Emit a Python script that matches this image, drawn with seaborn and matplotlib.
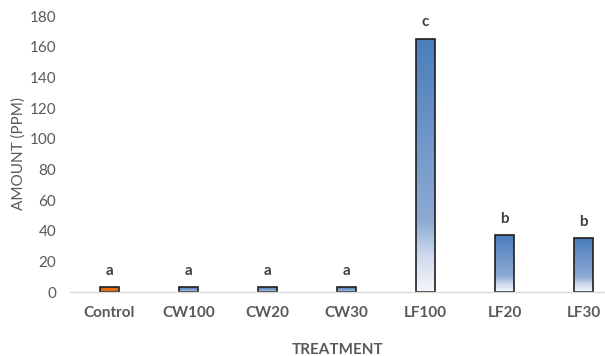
import numpy as np
import matplotlib
matplotlib.use("Agg")
import matplotlib.pyplot as plt
import pandas as pd
import seaborn as sb
from matplotlib.colors import LinearSegmentedColormap

treatments = ["Control", "CW100", "CW20", "CW30", "LF100", "LF20", "LF30"]
amounts = [3, 3, 3, 3, 165, 37, 35]
letters = ["a", "a", "a", "a", "c", "b", "b"]
yticks = [0, 20, 40, 60, 80, 100, 120, 140, 160, 180]

sb.set_style("white")
plt.rcParams["font.family"] = ["Lato", "DejaVu Sans"]

grey = "#595959"
blue_grad = LinearSegmentedColormap.from_list(
    "bluegrad",
    [(0.0, "#4a7ebb"), (0.72, "#8eaad4"), (0.86, "#cfdaec"), (1.0, "#f4f7fc")])

df = pd.DataFrame({"treatment": treatments, "amount": amounts})

fig = plt.figure(figsize=(6.05, 3.56), dpi=100)
ax = fig.add_axes([70 / 605, 64 / 356, 535 / 605, 276 / 356])
sb.barplot(data=df, x="treatment", y="amount", ax=ax, width=0.23,
           color="#4a7ebb", edgecolor="#1f1f1f", linewidth=1.2)

# gradient fill for each bar, orange for control
for i, p in enumerate(ax.patches):
    x0, y0 = p.get_x(), p.get_y()
    w, h = p.get_width(), p.get_height()
    if i == 0:
        p.set_facecolor("#e46c0a")
        continue
    p.set_facecolor("none")
    grad = np.linspace(0, 1, 256).reshape(-1, 1)
    im = ax.imshow(grad, cmap=blue_grad, aspect="auto",
                   extent=[x0, x0 + w, y0, y0 + h], origin="upper", zorder=p.get_zorder() - 0.1)
    im.set_clip_path(p)

for i, (v, lab) in enumerate(zip(amounts, letters)):
    ax.annotate(lab, (i, v), xytext=(0, 7), textcoords="offset points",
                ha="center", va="bottom", fontsize=11, fontweight="bold", color="#404040")

ax.set_xlim(-0.5, -0.5 + 535 / 79)
ax.set_ylim(0, 180)
ax.set_yticks(yticks)
ax.tick_params(axis="both", length=0, colors=grey, labelsize=11)
ax.tick_params(axis="y", pad=10)
ax.tick_params(axis="x", pad=10)
for t in ax.get_xticklabels():
    t.set_fontweight("bold")
for s in ["top", "right", "left"]:
    ax.spines[s].set_visible(False)
ax.spines["bottom"].set_color("#d9d9d9")
ax.spines["bottom"].set_linewidth(1)

ax.set_xlabel("TREATMENT", fontsize=11, fontweight="bold", color=grey, labelpad=17)
ax.set_ylabel("AMOUNT (PPM)", fontsize=11, color=grey, labelpad=3)

fig.savefig("out.png", dpi=100)
